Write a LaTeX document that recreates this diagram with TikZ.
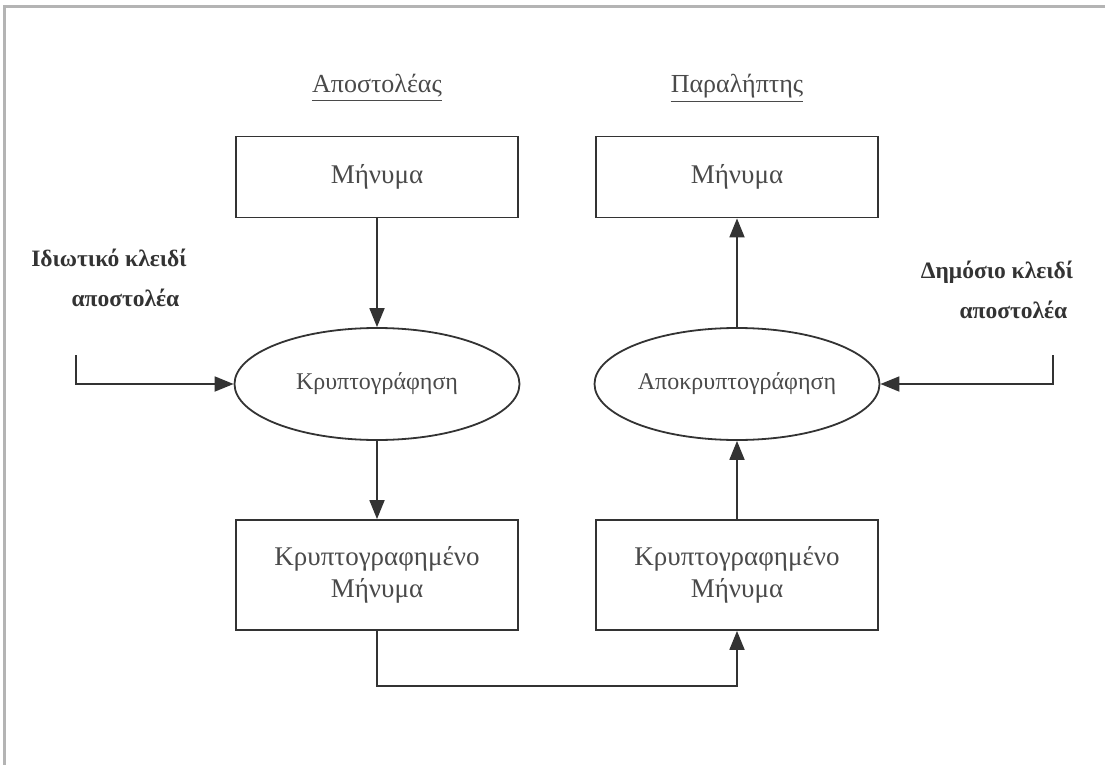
\documentclass[tikz,border=0pt]{standalone}
\usepackage{fontspec}
\setmainfont{Liberation Serif}
\usetikzlibrary{shapes.geometric,arrows.meta,calc}
\definecolor{ink}{HTML}{333333}
\definecolor{txt}{HTML}{4A4A4A}
\definecolor{frame}{HTML}{B4B4B4}
\begin{document}
\begin{tikzpicture}[x=1pt,y=-1pt,
  box/.style={draw=ink,line width=1.8pt,rectangle,minimum width=282pt,minimum height=81pt,inner sep=0pt,
    text=txt,font=\fontsize{27}{32}\selectfont,align=center},
  tallbox/.style={box,minimum height=110pt},
  oval/.style={draw=ink,line width=1.8pt,ellipse,minimum width=285pt,minimum height=112pt,inner sep=0pt,
    text=txt,font=\fontsize{24}{29}\selectfont},
  title/.style={text=txt,font=\fontsize{26}{31}\selectfont,inner sep=0pt},
  keylbl/.style={text=ink,font=\bfseries\fontsize{23.5}{40}\selectfont,align=center,inner sep=0pt},
  flow/.style={draw=ink,line width=1.8pt,-{Triangle[length=19pt,width=15pt]}}]
\useasboundingbox (0,0) rectangle (1105,765);
\fill[white] (0,0) rectangle (1105,765);
\draw[frame,line width=3pt] (4,765) -- (4,7) -- (1105,7);
% titles
\node[title] (t1) at (377,86) {Αποστολέας};
\node[title] (t2) at (737,86) {Παραλήπτης};
\draw[txt,line width=1.2pt] ($(t1.south west)+(0,3)$) -- ($(t1.south east)+(0,3)$);
\draw[txt,line width=1.2pt] ($(t2.south west)+(0,3)$) -- ($(t2.south east)+(0,3)$);
% nodes
\node[box] (m1) at (377,177) {Μήνυμα};
\node[box] (m2) at (737,177) {Μήνυμα};
\node[oval] (e1) at (377,384) {Κρυπτογράφηση};
\node[oval] (e2) at (737,384) {Αποκρυπτογράφηση};
\node[tallbox] (c1) at (377,575) {Κρυπτογραφημένο\\Μήνυμα};
\node[tallbox] (c2) at (737,575) {Κρυπτογραφημένο\\Μήνυμα};
% key labels
\node[keylbl] (k1) at (109,278) {Ιδιωτικό κλειδί\\\hspace*{1.4em}αποστολέα};
\node[keylbl] (k2) at (997,290) {Δημόσιο κλειδί\\\hspace*{1.4em}αποστολέα};
\coordinate (k1s) at (76,355);
\coordinate (k2s) at (1053,355);
% connectors
\draw[flow] (m1.south) -- (e1.north);
\draw[flow] (e1.south) -- (c1.north);
\draw[flow] (c2.north) -- (e2.south);
\draw[flow] (e2.north) -- (m2.south);
\draw[flow] (k1s) |- (e1.west);
\draw[flow] (k2s) |- (e2.east);
\draw[flow] (c1.south) -- ++(0,55) -| (c2.south);
\end{tikzpicture}
\end{document}
